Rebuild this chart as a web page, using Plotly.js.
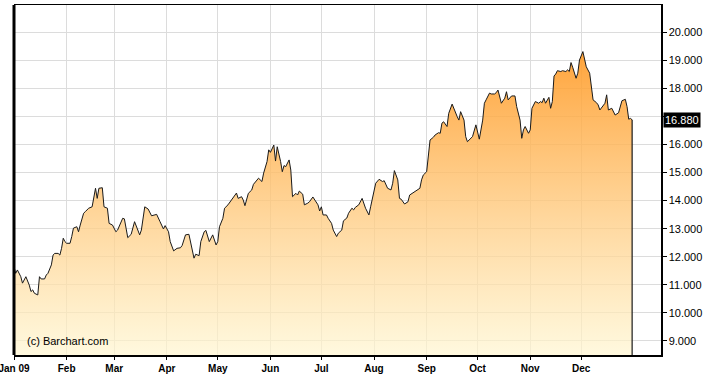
<!DOCTYPE html>
<html>
<head>
<meta charset="utf-8">
<script src="https://cdn.plot.ly/plotly-3.0.1.min.js"></script>
<style>
  html, body { margin: 0; padding: 0; background: #ffffff; }
  #chart { width: 710px; height: 377px; }
</style>
</head>
<body>
<div id="chart"></div>
<script>
// ---- Data ----
const dates = [
  '2009-01-01','2009-01-02','2009-01-03','2009-01-05','2009-01-06','2009-01-07','2009-01-08','2009-01-10','2009-01-11','2009-01-12','2009-01-13','2009-01-15','2009-01-16','2009-01-17','2009-01-19','2009-01-20','2009-01-21','2009-01-23','2009-01-24','2009-01-25','2009-01-27','2009-01-28','2009-01-29','2009-01-30','2009-01-31',
  '2009-02-01','2009-02-03','2009-02-04','2009-02-05','2009-02-07','2009-02-08','2009-02-09','2009-02-10','2009-02-11','2009-02-12','2009-02-13','2009-02-14','2009-02-16','2009-02-17','2009-02-18','2009-02-19','2009-02-20','2009-02-22','2009-02-23','2009-02-25','2009-02-26','2009-02-28',
  '2009-03-01','2009-03-02','2009-03-03','2009-03-05','2009-03-06','2009-03-07','2009-03-09','2009-03-11','2009-03-13','2009-03-16','2009-03-17','2009-03-19','2009-03-21','2009-03-23','2009-03-25','2009-03-26','2009-03-28','2009-03-30','2009-03-31',
  '2009-04-02','2009-04-03','2009-04-05','2009-04-07','2009-04-09','2009-04-10','2009-04-12','2009-04-14','2009-04-15','2009-04-17','2009-04-18','2009-04-20','2009-04-21','2009-04-23','2009-04-24','2009-04-26','2009-04-28','2009-04-30',
  '2009-05-01','2009-05-02','2009-05-04','2009-05-05','2009-05-07','2009-05-09','2009-05-10','2009-05-12','2009-05-13','2009-05-15','2009-05-16','2009-05-17','2009-05-19','2009-05-21','2009-05-22','2009-05-24','2009-05-25','2009-05-27','2009-05-28','2009-05-30','2009-05-31',
  '2009-06-01','2009-06-03','2009-06-04','2009-06-05','2009-06-07','2009-06-08','2009-06-09','2009-06-10','2009-06-12','2009-06-13','2009-06-14','2009-06-16','2009-06-17','2009-06-18','2009-06-20','2009-06-21','2009-06-23','2009-06-24','2009-06-26','2009-06-27','2009-06-29','2009-06-30',
  '2009-07-01','2009-07-02','2009-07-04','2009-07-05','2009-07-07','2009-07-08','2009-07-10','2009-07-11','2009-07-13','2009-07-14','2009-07-16','2009-07-17','2009-07-19','2009-07-20','2009-07-21','2009-07-23','2009-07-24','2009-07-25','2009-07-27','2009-07-29','2009-07-30',
  '2009-08-01','2009-08-02','2009-08-04','2009-08-06','2009-08-07','2009-08-09','2009-08-11','2009-08-12','2009-08-13','2009-08-15','2009-08-16','2009-08-17','2009-08-19','2009-08-21','2009-08-22','2009-08-23','2009-08-25','2009-08-26','2009-08-28','2009-08-29','2009-08-30',
  '2009-09-01','2009-09-02','2009-09-03','2009-09-05','2009-09-06','2009-09-08','2009-09-09','2009-09-10','2009-09-11','2009-09-13','2009-09-14','2009-09-16','2009-09-17','2009-09-19','2009-09-20','2009-09-21','2009-09-23','2009-09-24','2009-09-25','2009-09-27','2009-09-28','2009-09-30',
  '2009-10-01','2009-10-02','2009-10-04','2009-10-05','2009-10-06','2009-10-08','2009-10-09','2009-10-11','2009-10-12','2009-10-13','2009-10-15','2009-10-17','2009-10-18','2009-10-19','2009-10-21','2009-10-23','2009-10-24','2009-10-26','2009-10-27','2009-10-28','2009-10-29','2009-10-31',
  '2009-11-01','2009-11-02','2009-11-04','2009-11-06','2009-11-07','2009-11-08','2009-11-09','2009-11-10','2009-11-12','2009-11-13','2009-11-14','2009-11-15','2009-11-16','2009-11-17','2009-11-19','2009-11-20','2009-11-22','2009-11-23','2009-11-24','2009-11-25','2009-11-26','2009-11-28','2009-11-29','2009-11-30',
  '2009-12-02','2009-12-03','2009-12-04','2009-12-06','2009-12-07','2009-12-08','2009-12-10','2009-12-11','2009-12-12','2009-12-14','2009-12-15','2009-12-16','2009-12-17','2009-12-19','2009-12-20','2009-12-21','2009-12-23','2009-12-24','2009-12-25','2009-12-27','2009-12-28','2009-12-29','2009-12-30','2009-12-31'
];
const values = [
  11.65,11.41,11.53,11.29,11.06,11.17,11.29,10.99,10.76,10.82,10.70,10.64,11.29,11.21,11.21,11.35,11.41,11.71,12.06,12.12,12.12,12.06,12.30,12.66,12.54,
  12.48,12.48,12.72,13.02,13.07,12.89,13.13,13.31,13.55,13.61,13.67,13.73,13.78,14.20,14.44,14.08,14.44,14.46,13.78,13.73,13.19,13.13,
  13.02,12.89,12.95,13.25,13.37,13.35,12.68,12.80,13.25,12.78,12.95,13.78,13.70,13.46,13.49,13.51,13.25,12.99,13.11,
  12.89,12.54,12.21,12.30,12.32,12.40,12.78,12.80,12.54,11.95,12.09,12.04,12.54,12.89,12.94,12.54,12.78,12.42,
  12.54,13.07,13.37,13.73,13.85,14.02,14.08,14.27,14.08,14.14,14.02,13.82,14.26,14.38,14.58,14.74,14.80,14.68,14.98,15.39,15.81,
  15.72,15.98,15.41,15.92,15.39,15.03,15.25,15.21,15.45,15.09,14.14,14.26,14.20,14.34,14.23,13.85,13.91,13.96,14.13,14.02,13.85,13.63,
  13.78,13.49,13.49,13.37,13.19,12.95,12.72,12.84,12.95,13.28,13.38,13.55,13.73,13.67,13.76,13.85,13.96,14.08,13.73,13.49,13.78,
  14.32,14.62,14.76,14.68,14.71,14.44,14.38,14.62,15.07,14.74,14.08,14.05,13.88,13.96,14.20,14.24,14.32,14.36,14.44,14.74,14.91,
  15.03,15.51,16.16,16.26,16.34,16.42,16.40,16.76,16.81,16.64,17.11,17.44,17.27,16.99,16.87,17.17,16.87,16.28,16.10,16.22,16.28,16.70,
  16.46,16.19,16.87,17.47,17.59,17.83,17.80,17.80,17.85,17.94,17.47,17.65,17.88,17.59,17.73,17.73,17.35,16.87,16.22,16.52,16.64,16.40,
  16.52,17.29,17.53,17.47,17.53,17.49,17.65,17.47,17.68,17.29,17.53,18.44,18.51,18.63,18.60,18.63,18.60,18.66,18.60,18.92,18.75,18.36,18.54,19.01,
  19.31,19.01,18.77,18.54,17.94,17.59,17.49,17.41,17.23,17.41,17.47,17.77,17.23,17.29,17.17,17.05,17.13,17.35,17.56,17.61,17.35,16.90,16.93,16.88
];
const monthTicks = ['2009-01-01','2009-02-01','2009-03-01','2009-04-01','2009-05-01','2009-06-01','2009-07-01','2009-08-01','2009-09-01','2009-10-01','2009-11-01','2009-12-01'];
const monthLabels = ['Jan 09','Feb','Mar','Apr','May','Jun','Jul','Aug','Sep','Oct','Nov','Dec'];
const yTicks = [9,10,11,12,13,14,15,16,17,18,19,20];

// ---- Chart ----
const Y_MIN = 8.5, Y_MAX = 20.97;
const lastDate = dates[dates.length - 1];
const lastVal = values[values.length - 1];

const area = {
  type: 'scatter', mode: 'lines',
  x: dates, y: values,
  line: { color: '#1a1a1a', width: 1 },
  fill: 'tozeroy',
  fillgradient: {
    type: 'vertical',
    start: Y_MIN, stop: Y_MAX,
    colorscale: [[0, 'rgba(255,246,208,0.7)'], [1, 'rgba(255,139,9,0.92)']]
  },
  hoverinfo: 'skip', showlegend: false
};
const endDrop = {
  type: 'scatter', mode: 'lines',
  x: [lastDate, lastDate], y: [lastVal, Y_MIN],
  line: { color: '#1a1a1a', width: 1.2 },
  hoverinfo: 'skip', showlegend: false
};

const layout = {
  width: 710, height: 377,
  margin: { l: 14, r: 49, t: 5, b: 22 },
  paper_bgcolor: '#ffffff', plot_bgcolor: '#ffffff',
  font: { family: 'Liberation Sans, Arial, sans-serif', size: 11, color: '#000' },
  showlegend: false,
  xaxis: {
    type: 'date',
    range: ['2009-01-01', '2010-01-17'],
    tickmode: 'array', tickvals: monthTicks, ticktext: monthLabels,
    ticks: 'outside', ticklen: 3, tickcolor: '#000',
    ticklabeloverflow: 'allow',
    tickfont: { family: 'Liberation Sans, Arial, sans-serif', size: 10, weight: 'bold', color: '#000' },
    showgrid: true, gridcolor: '#dcdcdc', gridwidth: 1,
    showline: true, linecolor: '#000', linewidth: 1.5, mirror: true,
    zeroline: false, fixedrange: true
  },
  yaxis: {
    side: 'right',
    range: [Y_MIN, Y_MAX],
    tickmode: 'array', tickvals: yTicks,
    ticktext: yTicks.map(v => Math.abs(v - lastVal) < 0.5 ? '' : v.toFixed(3)),
    ticks: 'outside', ticklen: 4, tickcolor: '#000',
    tickfont: { family: 'Liberation Sans, Arial, sans-serif', size: 11, color: '#000' },
    showgrid: true, gridcolor: '#dcdcdc', gridwidth: 1,
    showline: true, linecolor: '#000', linewidth: 1.5,
    zeroline: false, fixedrange: true
  },
  shapes: [
    { type: 'line', xref: 'paper', yref: 'paper', x0: 0, x1: 0, y0: 0, y1: 1,
      line: { color: '#000', width: 3 } }
  ],
  annotations: [
    { xref: 'paper', yref: 'y', x: 1, y: lastVal, xanchor: 'left', yanchor: 'middle',
      xshift: 2, text: lastVal.toFixed(3), showarrow: false,
      bgcolor: '#000', borderpad: 1,
      font: { family: 'Liberation Sans, Arial, sans-serif', size: 11, color: '#fff' } },
    { xref: 'paper', yref: 'paper', x: 0.017, y: 0.04, xanchor: 'left', yanchor: 'middle',
      text: '(c) Barchart.com', showarrow: false,
      font: { family: 'Liberation Sans, Arial, sans-serif', size: 11, color: '#000' } }
  ]
};

Plotly.newPlot('chart', [area, endDrop], layout, { displayModeBar: false, staticPlot: true });
</script>
</body>
</html>
